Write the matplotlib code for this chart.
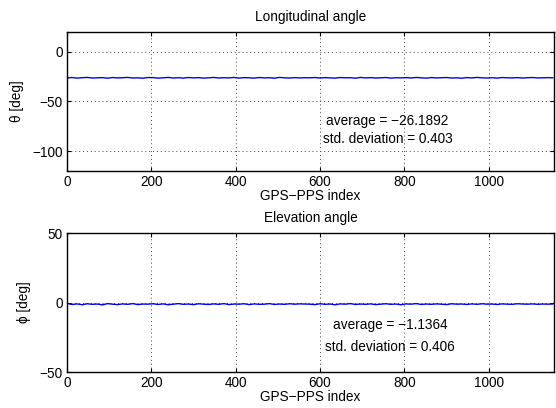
import matplotlib
matplotlib.use("Agg")
import matplotlib.pyplot as plt
import numpy as np

plt.rcParams['font.family'] = ['Liberation Sans', 'DejaVu Sans']
plt.rcParams['font.size'] = 9.8

# GPS-PPS index samples (every 12th index)
idx = np.arange(0, 1164, 12)

# longitudinal angle theta [deg]
theta = [-26.3, -25.9, -26.5, -26.1, -25.8, -26.4, -26.2, -26.0, -26.6, -25.9,
         -26.3, -26.1, -25.8, -26.4, -26.2, -26.6, -25.9, -26.0, -26.5, -26.2,
         -25.8, -26.4, -26.1, -26.5, -25.9, -26.3, -26.0, -26.5, -26.2, -25.8,
         -26.4, -26.1, -26.3, -25.8, -26.5, -26.0, -26.2, -26.5, -25.9, -26.3,
         -26.1, -26.6, -25.8, -26.2, -26.4, -26.0, -26.3, -26.1, -26.2, -25.9,
         -26.4, -26.0, -26.3, -26.5, -25.9, -26.2, -26.1, -26.6, -25.8, -26.3,
         -26.0, -26.4, -26.2, -25.9, -26.5, -26.1, -26.3, -26.0, -26.4, -25.8,
         -26.2, -26.5, -26.0, -26.3, -26.1, -25.9, -26.4, -26.2, -26.6, -26.0,
         -26.3, -25.8, -26.2, -26.4, -26.1, -26.5, -25.9, -26.2, -26.3, -26.0,
         -26.4, -26.1, -25.9, -26.3, -26.2, -26.0, -26.2]

# elevation angle phi [deg]
phi = [-0.7, -1.4, -1.0, -1.6, -0.9, -1.3, -1.1, -1.7, -0.8, -1.2,
       -1.5, -1.0, -1.3, -0.8, -1.5, -1.1, -1.2, -0.9, -1.4, -1.0,
       -1.6, -1.2, -0.8, -1.3, -1.1, -1.5, -0.9, -1.2, -1.4, -1.0,
       -1.3, -0.8, -1.5, -1.1, -1.2, -0.9, -1.5, -1.0, -1.3, -1.2,
       -0.8, -1.4, -1.1, -1.3, -0.9, -1.2, -1.0, -1.1, -1.2, -1.5,
       -0.9, -1.3, -1.1, -1.6, -1.0, -1.2, -0.8, -1.4, -1.1, -1.3,
       -1.0, -1.5, -1.2, -0.9, -1.3, -1.1, -1.6, -1.0, -1.2, -0.8,
       -1.4, -1.1, -1.3, -1.0, -1.2, -1.5, -0.9, -1.2, -1.1, -1.4,
       -1.0, -1.3, -0.9, -1.2, -1.1, -1.4, -1.0, -1.2, -1.3, -0.9,
       -1.1, -1.2, -1.0, -1.3, -1.1, -1.2, -1.1]

theta_avg, theta_std = -26.1892, 0.403
phi_avg, phi_std = -1.1364, 0.406

fig = plt.figure(figsize=(5.56, 4.08), dpi=100)
ax1 = fig.add_axes([0.1205, 0.581, 0.876, 0.3407])
ax2 = fig.add_axes([0.1205, 0.0882, 0.876, 0.3407])


def style(ax):
    ax.grid(True, color='#444444', linestyle=(0, (1, 3)), linewidth=0.7)
    ax.tick_params(direction='in', top=True, right=True, length=3, pad=3)
    for s in ax.spines.values():
        s.set_linewidth(1.0)
    ax.set_xlim(0, 1155)
    ax.set_xticks([0, 200, 400, 600, 800, 1000])
    ax.set_xlabel('GPS\u2212PPS index', labelpad=0)


ax1.plot(idx, theta, color='#0000ee', linewidth=1.0)
style(ax1)
ax1.set_ylim(-120, 20)
ax1.set_yticks([-100, -50, 0])
ax1.set_ylabel('\u03b8 [deg]', labelpad=6)
ax1.set_title('Longitudinal angle', fontsize=9.8, pad=8)
ax1.text(614, -69.3, f'average = \u2212{abs(theta_avg)}', va='center')
ax1.text(608, -87.5, f'std. deviation = {theta_std}', va='center')

ax2.plot(idx, phi, color='#0000ee', linewidth=1.0)
style(ax2)
ax2.set_ylim(-50, 50)
ax2.set_yticks([-50, 0, 50])
ax2.set_ylabel('\u03d5 [deg]', labelpad=6)
ax2.set_title('Elevation angle', fontsize=9.8, pad=8)
ax2.text(630, -16.2, f'average = \u2212{abs(phi_avg)}', va='center')
ax2.text(612, -31.8, f'std. deviation = {phi_std}', va='center')

fig.savefig('out.png', dpi=100)
